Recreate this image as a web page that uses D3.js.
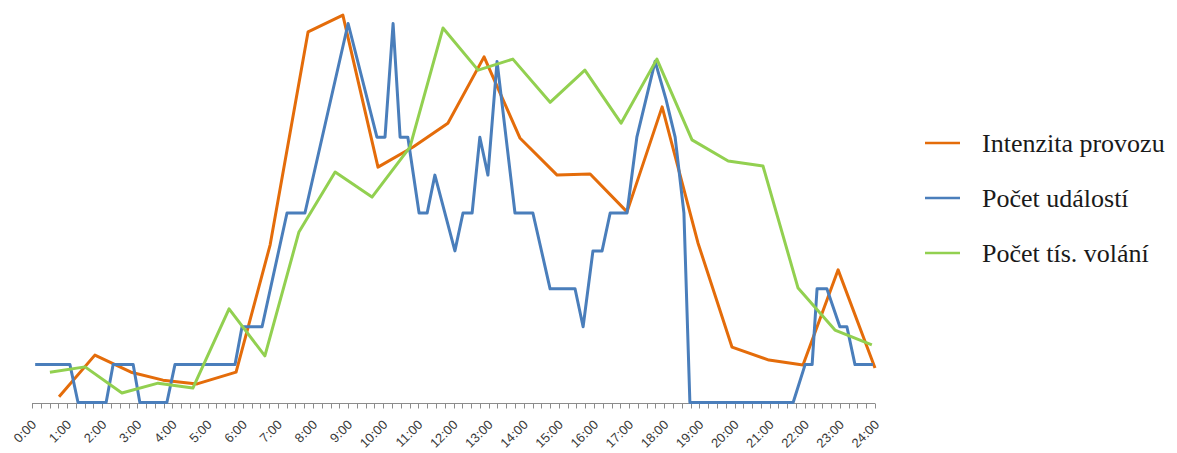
<!DOCTYPE html>
<html>
<head>
<meta charset="utf-8">
<script src="https://cdn.jsdelivr.net/npm/d3@7"></script>
<style>
  html, body { margin: 0; padding: 0; background: #fff; }
  svg { display: block; }
</style>
</head>
<body>
<svg id="chart" width="1177" height="453"></svg>
<script>
// Hour labels on the category axis (one label per hour, ticks every 15 minutes)
const hourLabels = d3.range(0, 25).map(h => h + ":00");
const tickSteps = d3.range(0, 24.001, 0.25);

// Intenzita provozu – time of day (h) and relative value
const intenzitaTimes  = [0.77, 1.79, 2.82, 3.73, 4.70, 5.81, 6.78, 7.86, 8.85, 9.85, 10.85, 11.84,
                         12.87, 13.89, 14.95, 15.89, 16.94, 17.94, 18.96, 19.93, 20.98, 21.95, 22.95, 24.00];
const intenzitaValues = [0.15, 1.25, 0.80, 0.59, 0.49, 0.80, 4.16, 9.78, 10.22, 6.21, 6.74, 7.37,
                         9.12, 6.98, 6.00, 6.03, 5.03, 7.80, 4.21, 1.46, 1.12, 0.99, 3.50, 0.91];

// Počet událostí – time of day (h) and count
const udalostiTimes  = [0.09, 1.08, 1.31, 2.11, 2.31, 2.88, 3.07, 3.84, 4.07, 5.78, 5.98, 6.55,
                        7.26, 7.77, 9.00, 9.82, 10.05, 10.28, 10.48, 10.70, 11.02, 11.25, 11.47,
                        12.04, 12.27, 12.53, 12.75, 12.98, 13.24, 13.75, 14.26, 14.75, 15.46,
                        15.69, 15.97, 16.23, 16.46, 16.94, 17.22, 17.74, 18.05, 18.31, 18.56,
                        18.73, 21.67, 22.01, 22.21, 22.35, 22.63, 23.00, 23.20, 23.43, 23.94];
const udalostiValues = [1, 1, 0, 0, 1, 1, 0, 0, 1, 1, 2, 2,
                        5, 5, 10, 7, 7, 10, 7, 7, 5, 5, 6,
                        4, 5, 5, 7, 6, 9, 5, 5, 3, 3,
                        2, 4, 4, 5, 5, 7, 9, 8, 7, 5,
                        0, 0, 1, 1, 3, 3, 2, 2, 1, 1];

// Počet tís. volání – time of day (h) and relative value
const volaniTimes  = [0.51, 1.51, 2.56, 3.59, 4.58, 5.61, 6.63, 7.60, 8.63, 9.68, 10.76, 11.70,
                      12.70, 13.69, 14.75, 15.74, 16.77, 17.79, 18.79, 19.82, 20.81, 21.81, 22.86, 23.91];
const volaniValues = [0.80, 0.94, 0.25, 0.51, 0.38, 2.47, 1.23, 4.50, 6.08, 5.42, 6.74, 9.88,
                      8.77, 9.06, 7.92, 8.77, 7.37, 9.06, 6.93, 6.37, 6.24, 3.02, 1.91, 1.52];

const seriesNames  = ["Intenzita provozu", "Počet událostí", "Počet tís. volání"];
const seriesColors = ["#E46C0A", "#4A7EBB", "#92D050"];

const series = [
  { name: seriesNames[0], color: seriesColors[0], pts: d3.zip(intenzitaTimes, intenzitaValues) },
  { name: seriesNames[1], color: seriesColors[1], pts: d3.zip(udalostiTimes, udalostiValues) },
  { name: seriesNames[2], color: seriesColors[2], pts: d3.zip(volaniTimes, volaniValues) }
];

const svg = d3.select("#chart");
svg.append("rect").attr("width", 1177).attr("height", 453).attr("fill", "#fff");

const x = d3.scaleLinear().domain([0, 24]).range([32, 875]);
const y = d3.scaleLinear().domain([0, 10]).range([402.5, 23.5]);

// Horizontal category axis: 15-minute tick marks, hour labels rotated 45°
const axisY = 403.5;
const axis = svg.append("g");
axis.append("line")
  .attr("x1", x(0)).attr("x2", x(24))
  .attr("y1", axisY).attr("y2", axisY)
  .attr("stroke", "#8c8c8c").attr("stroke-width", 1);
axis.selectAll("line.tick").data(tickSteps).join("line")
  .attr("class", "tick")
  .attr("x1", d => Math.round(x(d)) + 0.5).attr("x2", d => Math.round(x(d)) + 0.5)
  .attr("y1", axisY).attr("y2", axisY + 5)
  .attr("stroke", "#8c8c8c").attr("stroke-width", 1);
axis.selectAll("text").data(hourLabels).join("text")
  .attr("transform", (d, i) => `translate(${x(i) + 5},${axisY + 22}) rotate(-45)`)
  .attr("text-anchor", "end")
  .attr("font-family", "Liberation Sans, Arial, sans-serif")
  .attr("font-size", 13)
  .attr("fill", "#3a3a3a")
  .text(d => d);

// Data lines
const line = d3.line().x(d => x(d[0])).y(d => y(d[1]));
svg.append("g").selectAll("path").data(series).join("path")
  .attr("d", d => line(d.pts))
  .attr("fill", "none")
  .attr("stroke", d => d.color)
  .attr("stroke-width", 3)
  .attr("stroke-linejoin", "round");

// Legend
const legend = svg.append("g");
const legendRows = legend.selectAll("g").data(series).join("g")
  .attr("transform", (d, i) => `translate(925,${143 + i * 55})`);
legendRows.append("line")
  .attr("x1", 0).attr("x2", 35).attr("y1", 0).attr("y2", 0)
  .attr("stroke", d => d.color).attr("stroke-width", 2.5);
legendRows.append("text")
  .attr("x", 57).attr("y", 9)
  .attr("font-family", "Liberation Serif, Times New Roman, serif")
  .attr("font-size", 26)
  .attr("fill", "#1a1a1a")
  .text(d => d.name);
</script>
</body>
</html>
